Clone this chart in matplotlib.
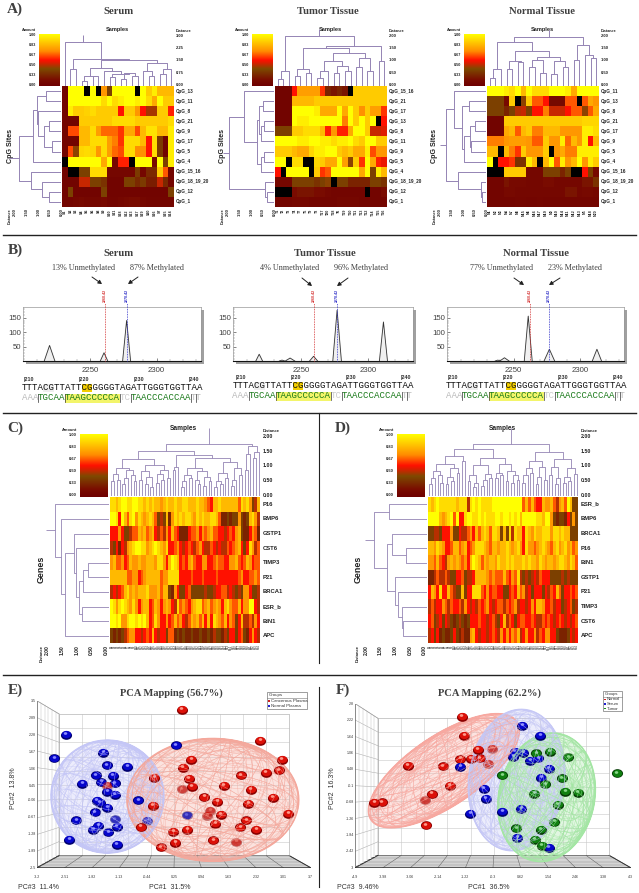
import numpy as np
import matplotlib
matplotlib.use('Agg')
import matplotlib.pyplot as plt
from matplotlib.colors import LinearSegmentedColormap
from matplotlib.collections import LineCollection
from matplotlib.patches import Rectangle, Polygon
from matplotlib.path import Path
from matplotlib.transforms import Affine2D

# ---------- data: panel A ----------
A_serum_rows = ['CpG_13','CpG_11','CpG_8','CpG_21','CpG_9','CpG_17','CpG_5','CpG_4','CpG_15_16','CpG_18_19_20','CpG_12','CpG_1']
A_tumor_rows = ['CpG_15_16','CpG_21','CpG_17','CpG_13','CpG_8','CpG_11','CpG_9','CpG_5','CpG_4','CpG_18_19_20','CpG_12','CpG_1']
A_normal_rows = ['CpG_11','CpG_13','CpG_8','CpG_21','CpG_17','CpG_9','CpG_5','CpG_4','CpG_15_16','CpG_18_19_20','CpG_12','CpG_1']
A_serum_cols = ['S1','S2','S3','S4','S5','S6','S8','S9','S10','S11','S18','S12','S13','S17','S19','S20','S16','S7','S15','S14']
A_tumor_cols = ['T1','T2','T3','T4','T7','T5','T9','T8','T17','T20','T18','T6','T19','T10','T11','T13','T12','T14','T15','T16']
A_normal_cols = ['N1','N2','N3','N4','N7','N8','N15','N6','N16','N17','N19','N9','N10','N14','N11','N12','N13','N5','N18','N20']
A_serum = [
 [.05,1,1,1,-1,1,-1,.7,.3,1,1,1,1,-1,1,.85,.95,.8,.8,.8],
 [.05,1,1,1,1,1,1,.9,1,.9,.95,1,1,.95,1,.9,.75,1,.85,.85],
 [.05,.95,.85,.85,.87,.9,.85,.85,.85,.85,.5,.85,.85,.7,.5,.38,.38,.85,.85,.52],
 [.05,.05,.05,.85,.85,.85,.85,.85,.85,.9,.9,.9,.9,.85,.85,.85,.85,.85,.85,.9],
 [.05,.58,.58,.8,.8,.9,.72,.62,.62,.62,.55,.75,.75,.58,.8,.92,.92,.8,.8,.95],
 [.05,.05,.05,.8,.8,.9,.9,.9,.72,.65,.55,.9,.9,.9,.8,.5,.9,.28,.05,.95],
 [.05,.58,.35,.88,.9,.88,.7,.9,.72,.62,.58,.9,.9,.68,.68,.5,.9,.28,.05,.95],
 [-1,1,1,1,1,1,1,.75,1,.08,.52,.52,-1,1,1,1,.1,1,.3,.95],
 [.05,-1,-1,.3,.3,.9,.9,.9,.08,.08,.08,.08,.08,.28,.08,.22,.22,.85,.6,.05],
 [.05,.05,.05,.42,.42,.3,.3,.25,.05,.05,.05,.3,.3,.22,.28,.18,.18,.42,.22,.05],
 [.05,.3,.05,.05,.05,.05,.05,.3,.05,.05,.05,.05,.05,.05,.05,.05,.05,.05,.05,.3],
 [.06,.06,.08,.1,.08,.08,.08,.1,.06,.06,.08,.1,.12,.12,.08,.06,.06,.06,.06,.06]]
A_tumor = [
 [.05,.05,.05,.5,.72,.72,.72,.72,.55,.2,.15,.2,.15,-1,.85,.85,.85,.85,.85,.85],
 [.05,.05,.05,.8,.8,.8,.8,.85,.85,.85,.85,.85,.85,.85,.85,.85,.85,.85,.85,.85],
 [.05,.05,.05,1,1,1,1,.95,.75,.75,.75,1,.75,1,.85,.68,.85,.72,.72,.55],
 [.05,.05,.05,1,.95,.95,1,1,1,1,1,1,.65,1,.85,1,.85,1,-1,.5],
 [.3,.3,.3,.85,.85,.9,.9,.9,.8,.52,.7,.52,.52,.75,1,1,.85,.42,.42,.45],
 [1,1,1,1,.95,.95,1,1,.95,.95,.9,.95,.95,1,.9,.85,1,1,.85,.85],
 [.85,.85,.85,.8,.75,.75,.88,.95,.95,1,1,.85,.8,.85,.75,.75,.95,.58,.7,.7],
 [1,1,-1,.9,.9,-1,-1,.88,.85,.75,.75,1,.72,.35,.85,.55,1,.75,.52,.47],
 [.5,-1,1,1,1,1,-1,.85,.55,.6,1,1,1,1,1,.75,1,.3,.95,.8],
 [.08,.08,.08,.3,.3,.3,.3,.25,.3,.35,-1,.3,.3,.2,.2,.2,.2,.3,.3,.25],
 [-1,-1,-1,.12,.15,.15,.15,.12,.12,.08,.06,.06,.06,.06,.06,.06,-1,.06,.06,.12],
 [.06,.06,.06,.08,.08,.08,.06,.06,.06,.06,.06,.08,.08,.08,.08,.06,.06,.06,.06,.06]]
A_normal = [
 [1,1,1,.95,.9,1,.8,1,.9,.9,.9,1,1,1,.95,.75,1,1,1,1],
 [.3,.3,.3,.1,.85,-1,.35,.85,.6,.6,.5,.1,.1,.1,.6,.6,-1,.6,.75,.7],
 [.3,.3,.3,.2,.3,.4,.42,.3,.5,.5,.65,.42,.42,.42,.5,.6,.6,.35,.6,.75],
 [.05,.05,.05,.85,.85,.85,.85,.85,.85,.85,.85,.85,.85,.85,.85,.85,.85,.88,.88,.88],
 [.05,.05,.05,.75,.8,.6,.8,.85,.65,.65,.8,.8,.8,.7,.7,.7,.7,.95,.95,.9],
 [.65,.65,.65,.7,.72,.72,.72,.7,.6,.6,.85,.7,.7,.95,.62,.8,.7,.95,.5,.8],
 [.8,.8,-1,.8,.65,.55,.85,.7,.7,.7,.85,-1,.7,.75,.65,.65,.95,.95,.95,.95],
 [1,-1,.5,.5,.55,.25,.25,.95,.8,-1,.8,1,.6,.95,.7,.8,1,.7,.95,.85],
 [-1,-1,-1,.85,.85,.85,.85,.08,.08,.08,.3,.3,.3,.2,.3,-1,-1,.5,.3,.1],
 [.06,.06,.06,.15,.1,.1,.1,.08,.08,.08,.12,.12,.08,.08,.08,.08,.08,.15,.15,.25],
 [.06,.06,.06,.1,.1,.08,.08,.08,.08,.08,.08,.08,.08,.08,.15,.15,.08,.1,.1,.08],
 [.06,.06,.06,.06,.06,.07,.07,.06,.06,.07,.06,.06,.06,.06,.06,.06,.06,.06,.06,.06]]

# dendrograms: [height, left, right]; 0 = leaf
A_serum_top = [2.68,0,[1.62,[1.0,0,0],[1.55,[1.05,[.55,[.3,0,0],[.55,0,0]],[.9,0,[.7,[.5,0,0],[.75,[.4,0,0],[.6,0,0]]]]],[1.4,[.9,0,[.6,0,0]],[1.0,[.7,0,0],0]]]]]
A_tumor_top = [2.0,[.6,[.25,0,0],0],[1.6,[1.5,[.65,[.4,0,0],[.5,0,0]],[1.3,[1.0,[.6,[.3,0,0],0],[.8,[.5,0,0],[.6,0,0]]],[1.1,[.75,0,0],[.6,0,0]]]],[1.0,0,0]]]
A_normal_top = [1.95,[1.75,[.65,[.3,0,0],0],[1.4,[1.0,[.65,0,0],[.95,0,0]],[1.15,[1.05,[.75,0,0],[.5,0,0]],[1.0,[.45,0,0],[.75,0,0]]]]],[1.65,[1.05,0,0],[1.25,0,[1.1,0,0]]]]
A_serum_left = [1.71,[1.16,[1.0,[.6,0,0],[.95,0,[.7,[.5,0,0],[.35,0,0]]]],0],[1.25,0,[.8,0,[.5,0,0]]]]
A_tumor_left = [1.86,[1.22,0,[.72,[.6,[.45,0,0],[.55,[.4,0,0],0]],[.55,[.4,0,0],0]]],[.37,0,[.3,0,0]]]
A_normal_left = [1.64,[1.3,0,[.98,[.7,0,0],[.9,[.65,[.45,0,0],[.6,0,0]],0]]],[1.14,0,[.2,0,[.18,0,0]]]]

# ---------- data: panel B ----------
B_titles = ['Serum','Tumor Tissue','Normal Tissue']
B_unmeth = ['13% Unmethylated','4% Unmethylated','77% Unmethylated']
B_meth = ['87% Methylated','96% Methylated','23% Methylated']
B_peak_pos = [[2219.5,2260.5,2277.5],[2219,2236,2242,2259.5,2277,2311.5],[2238,2243,2261,2277,2313]]
B_peak_height = [[55,30,140],[25,5,12,18,175,135],[5,13,155,42,42]]
B_peak_halfwidth = [[4,2.8,3],[2.5,2,3.5,3,3.2,3],[2,3.5,3,4,3.5]]
seq_top = 'TTTACGTTATTCGGGGGTAGATTGGGTGGTTAA'
seq_parts = [('AAA',0,'#bbbbbb'),('TGCAA',3,'#1a7a1a'),('TAAGCCCCCA',8,'#1a7a1a'),('TC',18,'#cccccc'),('TAACCCACCAA',20,'#1a7a1a'),('TT',31,'#bbbbbb')]
ruler = ['210','220','230','240']

# ---------- data: panels C, D (amount x 10) ----------
C_rows = ['P16','BMP6','GSTP1','CST6','TIMP3','P21','BRCA1','ESR_b','BIN1','APC']
C_vals = [
 [9,9,8,9,10,10,9,9,10,10,9,9,8,9,8,9,8,8,7,8,9,8,8,9,8,8,9,9,8,8,8,9,8,8,7,6,5,8,8,9,8,8,8,8,8,8,6,9,8,9,7,3,4,8],
 [10,10,9,5,10,8,6,9,10,7,9,8,7,8,9,8,6,3,4,3,8,2,7,9,8,9,8,9,9,8,7,9,8,9,8,8,9,9,8,6,2,2,3,2,3,3,7,3,2,3,8,9,7,4],
 [5,5,5,7,5,3,3,4,6,6,8,7,8,6,7,8,5,4,6,4,7,5,8,6,5,2,2,2,5,6,6,7,5,7,6,7,8,6,6,5,5,4,5,6,5,7,8,3,2,2,5,7,6,2],
 [4,3,5,2,5,4,7,8,9,10,10,9,9,7,8,9,10,9,8,7,9,5,5,6,7,5,4,5,6,5,4,6,7,5,4,4,6,5,4,5,4,4,6,5,6,7,8,5,3,5,9,7,4,6],
 [7,8,6,6,7,5,6,8,7,7,8,7,7,8,8,8,7,9,9,7,5,8,10,9,8,5,6,5,7,8,6,5,5,7,7,5,5,6,7,6,6,5,5,7,7,8,6,5,6,8,7,5,6,6],
 [8,8,8,8,8,8,6,6,7,7,5,6,7,8,8,8,8,8,6,7,7,9,9,9,9,5,5,5,5,6,5,5,5,6,5,5,5,5,6,5,5,5,5,5,5,5,6,7,5,5,6,6,7,6],
 [4,5,4,5,6,8,9,7,8,7,8,8,8,9,7,7,7,8,6,8,8,3,2,7,5,3,3,5,6,3,3,3,3,3,4,3,3,4,5,5,6,6,4,5,4,3,4,3,7,7,5,3,3,4],
 [10,9,7,9,10,9,8,7,9,7,5,7,8,8,5,6,8,7,5,7,8,7,5,4,9,6,7,6,5,7,8,9,9,6,7,8,6,7,8,7,5,8,9,7,6,6,8,5,7,7,10,10,5,4],
 [10,10,9,10,7,7,9,10,10,9,10,9,10,8,5,6,9,7,5,5,7,5,6,8,6,7,5,4,6,8,7,8,6,8,5,8,5,9,8,7,6,8,5,7,6,3,5,8,4,4,6,4,7,5],
 [3,2,3,2,3,4,6,7,7,5,5,4,5,6,5,8,5,4,5,5,3,6,6,2,3,2,3,2,2,3,2,2,3,2,2,3,2,4,3,3,2,4,3,5,5,3,5,6,3,2,5,7,5,4]]
D_rows = ['ESR_b','BMP6','BRCA1','P16','BIN1','GSTP1','P21','TIMP3','CST6','APC']
D_vals = [
 [9,8,9,10,9,9,9,9,9,9,8,9,9,9,4,9,10,9,10,9,9,9,9,10,10,10,10,10,10,10,10,10,10,10,6,8,6,8,6,5,5,8,7,7,8,6,4,7,8,6,10,8,3,3],
 [10,10,10,10,8,7,8,9,10,6,10,5,5,9,10,10,9,9,10,9,10,9,9,9,10,10,9,10,10,9,10,9,10,8,10,10,10,10,10,9,9,8,10,10,7,3,2,3,3,2,5,3,7,3],
 [3,3,4,4,3,5,5,5,7,3,3,5,4,4,6,7,5,8,6,8,9,8,6,9,9,8,3,8,3,9,4,9,8,8,5,9,8,7,9,8,8,9,9,9,7,9,9,8,9,8,8,3,3,3],
 [8,8,7,9,8,7,5,5,6,8,8,6,7,8,5,6,7,9,9,9,8,7,6,8,8,7,8,8,9,8,7,8,9,7,5,9,7,7,6,7,8,9,8,7,6,8,9,7,8,9,7,8,6,7],
 [7,7,6,8,6,5,4,7,8,7,8,7,6,7,5,8,10,9,8,6,8,7,8,8,7,9,8,8,9,8,9,8,8,8,9,8,9,8,8,7,9,8,7,8,8,7,8,9,9,8,7,9,8,6],
 [2,2,4,6,4,4,6,4,3,3,5,5,6,3,4,4,5,8,8,8,8,7,6,7,6,6,6,8,6,5,7,6,9,4,3,4,3,4,5,4,6,5,5,5,3,3,3,3,4,3,4,3,3,3],
 [5,8,7,5,9,5,5,8,6,4,3,3,8,3,5,5,9,9,9,6,5,7,5,6,6,5,5,3,3,5,6,5,8,6,7,4,5,3,5,5,5,3,5,4,6,5,8,6,3,5,5,6,5,6],
 [4,6,4,5,5,7,6,4,6,5,5,6,4,7,5,4,5,4,6,5,6,7,5,4,5,6,6,4,6,5,6,7,4,5,5,4,5,7,5,8,8,7,5,5,6,4,5,5,3,4,5,6,3,4],
 [5,6,3,4,5,3,5,4,3,2,3,4,3,2,3,5,5,5,6,5,5,4,5,6,4,3,5,8,4,6,5,3,5,6,6,5,5,6,5,4,4,6,5,6,5,4,5,6,5,4,5,4,5,6],
 [4,5,3,5,2,3,2,2,3,5,3,2,4,2,2,7,8,5,4,5,5,4,5,6,5,4,7,5,7,5,7,6,8,4,5,7,5,5,7,4,6,5,7,7,5,5,3,2,2,2,3,5,4,5]]
C_a = [1.25,[.95,[.75,[.5,0,0],[.55,0,0]],[.9,[.6,[.4,0,0],0],[.7,0,[.5,0,0]]]],[1.05,[.85,[.55,0,0],[.65,[.4,0,0],[.3,0,0]]],[.9,[.75,[.45,0,0],[.55,0,0]],[.6,0,0]]]]
C_b = [1.4,[1.0,[.9,0,0],0],[1.3,[.95,[.7,[.5,[.3,0,0],0],[.6,0,0]],[.85,[.55,0,[.4,0,0]],[.65,[.35,0,0],[.5,0,0]]]],[1.15,[.8,[.5,[.3,0,0],[.4,0,0]],[.6,0,0]],[.95,[.55,[.35,0,0],0],[.7,0,0]]]]]
C_c = [1.7,[1.45,[.9,0,0],0],[1.5,[1.3,0,0],0]]
C_top = [1.78,[1.55,C_a,C_b],C_c]
C_left = [1.84,0,[1.64,0,[1.49,[1.19,0,[1.13,0,[1.02,[.88,[.7,0,0],0],[.93,0,0]]]],0]]]
D_l = [1.6,[1.35,[1.1,[.85,[.6,[.4,0,0],0],[.7,0,[.45,0,0]]],[.95,[.65,[.4,0,0],[.5,0,0]],[.8,0,0]]],[1.2,0,0]],[1.3,[1.05,[.7,[.5,0,0],[.45,[.3,0,0],0]],[.75,[.55,[.35,0,0],0],[.6,0,0]]],[1.1,[.8,[.6,0,0],[.7,0,0]],[.85,[.5,0,0],[.7,[.45,0,0],[.55,0,0]]]]]]
D_r = [1.5,[1.2,[.95,[.7,[.45,0,0],0],[.8,0,0]],[1.0,[.65,[.4,0,0],0],[.55,0,0]]],[1.25,[1.0,[.7,0,0],[.6,[.4,0,0],0]],[.95,[.65,[.45,0,0],[.5,0,0]],[.75,0,0]]]]
D_top = [1.78,D_l,D_r]
D_left = [1.8,[1.3,0,0],[1.35,[1.17,0,[.7,0,0]],[1.1,0,[.98,0,[.85,0,[.8,0,0]]]]]]

# ---------- data: panels E, F ----------
E_xticks = [-3.2,-2.51,-1.82,-1.13,-.44,.25,.94,1.63,2.32,3.01,3.7]
E_yticks = [3.5,2.89,2.28,1.67,1.06,.45,-.06,-.67,-1.28,-1.89,-2.5]
E_blue_in_x = [-1.53,-1.45,-.93,-1.72,-1.30,-2.07,-1.58,-1.24,-1.43,-1.24,-1.70,-1.62,-1.43,-1.75,-2.22,-1.66,-1.79,-1.20,-1.41]
E_blue_in_y = [1.63,1.18,1.14,.82,.80,.51,.58,.54,.24,.12,-.10,-.16,-.34,-.51,-.80,-1.00,-1.14,-1.02,-1.23]
E_blue_out_x = [-2.48,-2.77,.29,-.65,-1.20,-2.39]
E_blue_out_y = [2.28,1.44,1.90,-.08,-1.67,-1.50]
E_blue_faint_x = [-1.24,-.44,.57]
E_blue_faint_y = [-.76,-.81,-.62]
E_red_in_x = [.47,2.97,2.89,2.56,1.94,.62,-.25,.70,1.50,2.19,1.01,1.34,2.74,2.13,-.29,3.13,1.43,2.07,1.29,1.92,.23,.58,.28,1.24,-.09]
E_red_in_y = [1.09,1.38,1.00,.92,.82,.69,.74,.42,.44,.31,.04,-.12,.01,-.20,-.27,-.56,-.60,-.80,-.93,-1.05,-1.20,-1.14,-1.61,-1.52,-1.77]
E_red_out_x = [.44,2.43,.69,-.59,2.32]
E_red_out_y = [3.18,2.07,1.39,-1.04,-1.14]
E_red_faint_x = [.44,1.16,1.09,1.82,-1.43]
E_red_faint_y = [.32,-.46,-.64,-1.58,.44]
F_xticks = [-4.9,-3.98,-3.06,-2.14,-1.22,-.3,.62,1.54,2.46,3.38,4.3]
F_yticks = [2.8,2.22,1.64,1.06,.48,-.1,-.68,-1.26,-1.84,-2.42,-3.0]
F_red_x = [-1.26,-1.40,-1.04,-.75,-3.14,-1.98,-1.74,-4.02]
F_red_y = [1.67,.84,.85,.87,.60,.58,-.10,-.69]
F_red_out_x = [-1.35,-.81,-2.34,-4.27,-2.55]
F_red_out_y = [2.33,1.17,-.40,-.71,-1.50]
F_red_faint_x = [-.32,-.46,-2.57]
F_red_faint_y = [1.21,.68,-.61]
F_blue_x = [.67,.43,.71,.38,.94,1.21,-1.39,1.56,1.32,-.61,-.55,-1.06,.65,.51,1.56]
F_blue_y = [2.01,1.10,1.07,.93,.78,.87,.56,.50,.17,-.22,-.57,-1.10,-.91,-1.94,-2.30]
F_blue_out_x = [1.28,.01]
F_blue_out_y = [1.67,-1.03]
F_green_x = [1.14,1.60,2.22,2.00,1.44,2.53,1.08,1.87,1.74,.47,1.29,1.10,1.33]
F_green_y = [1.04,1.09,.90,.16,-.05,-.35,-.38,-.77,-1.39,-1.61,-1.66,-2.01,-2.22]
F_green_out_x = [.01,3.83,2.11]
F_green_out_y = [.27,.34,-.31]

# ---------- helpers ----------
W, H = 639, 893
fig = plt.figure(figsize=(W/100, H/100), dpi=100, facecolor='white')
SANS = 'Liberation Sans'
SERIF = 'Liberation Serif'
GREY = '#404040'

def ax_px(x0, y0, x1, y1, **kw):
    return fig.add_axes([x0/W, 1-y1/H, (x1-x0)/W, (y1-y0)/H], **kw)

bg = fig.add_axes([0, 0, 1, 1], zorder=0)
bg.set_xlim(0, W); bg.set_ylim(H, 0); bg.axis('off')

def txt(x, y, s, size=4, weight='normal', family=SANS, color='black', ha='center', va='center', rot=0, z=5):
    bg.text(x, y, s, fontsize=size, fontweight=weight, family=family, color=color, ha=ha, va=va, rotation=rot, zorder=z)

cmap = LinearSegmentedColormap.from_list('hm', [(0,'#6e0000'),(.12,'#7a0c00'),(.33,'#7d4a00'),(.44,'#d82000'),(.5,'#ff1000'),(.67,'#ff8c00'),(.83,'#ffc400'),(1,'#ffff00')])
cmap.set_under('black')
DEND = '#9484b4'

def tree_segs(tree, cnt, segs):
    if tree == 0:
        p = cnt[0] + .5
        cnt[0] += 1
        return p, 0.0
    h, l, r = tree
    lp, lh = tree_segs(l, cnt, segs)
    rp, rh = tree_segs(r, cnt, segs)
    segs.append([(lp, lh), (lp, h), (rp, h), (rp, rh)])
    return (lp+rp)/2, h

def dend_top(tree, x0, x1, ybase, scale, stem, lw=.75):
    segs, cnt = [], [0]
    mid, h = tree_segs(tree, cnt, segs)
    segs.append([(mid, h), (mid, h+stem)])
    a = ax_px(x0, ybase-(h+stem)*scale, x1, ybase)
    a.set_xlim(0, cnt[0]); a.set_ylim(0, h+stem); a.axis('off')
    a.add_collection(LineCollection(segs, colors=DEND, linewidths=lw))

def dend_left(tree, xbase, y0, y1, scale, stem, lw=.75):
    segs, cnt = [], [0]
    mid, h = tree_segs(tree, cnt, segs)
    segs.append([(mid, h), (mid, h+stem)])
    segs = [[(b, a_) for a_, b in s] for s in segs]
    a = ax_px(xbase-(h+stem)*scale, y0, xbase, y1)
    a.set_xlim(h+stem, 0); a.set_ylim(cnt[0], 0); a.axis('off')
    a.add_collection(LineCollection(segs, colors=DEND, linewidths=lw))

def heat(vals, x0, y0, x1, y1):
    a = ax_px(x0, y0, x1, y1)
    a.imshow(np.array(vals, float), cmap=cmap, vmin=0, vmax=1, aspect='auto', interpolation='nearest')
    a.axis('off')

def cbar(x0, y0, x1, y1, labx, size):
    a = ax_px(x0, y0, x1, y1)
    a.imshow(np.linspace(1, 0, 256)[:, None], cmap=cmap, vmin=0, vmax=1, aspect='auto')
    a.axis('off')
    for f, s in zip(np.arange(6)/5, ['1.00','0.83','0.67','0.50','0.33','0.00']):
        txt(labx, y0+1.5+f*(y1-y0-3), s, size=size, ha='right', weight='bold', color='#222222')
    txt(labx, y0-4, 'Amount', size=size, ha='right', color='#222222', weight='bold')

# ---------- panel A ----------
txt(15, 9, 'A)', 11, 'bold', SERIF, GREY)
txt(118, 11, 'Serum', 7.7, 'bold', SERIF, GREY)
txt(328, 11, 'Tumor Tissue', 7.7, 'bold', SERIF, GREY)
txt(542, 11, 'Normal Tissue', 7.7, 'bold', SERIF, GREY)
A_layout = [
 (A_serum, A_serum_rows, A_serum_cols, A_serum_top, A_serum_left, 62, 39, 16.4, ['3.00','2.25','1.50','0.75','0.00'], 2.15-1.71),
 (A_tumor, A_tumor_rows, A_tumor_cols, A_tumor_top, A_tumor_left, 275, 252, 24.67, ['2.00','1.50','1.00','0.50','0.00'], .25),
 (A_normal, A_normal_rows, A_normal_cols, A_normal_top, A_normal_left, 487, 464, 24.67, ['2.00','1.50','1.00','0.50','0.00'], .25),
]
for vals, rows, cols, top, left, hx, cx, sc, dist, st in A_layout:
    hx1 = hx+112
    heat(vals, hx, 86, hx1, 207)
    cbar(cx, 34, cx+21, 86, cx-3, 2.7)
    dend_top(top, hx, hx1, 85.5, sc, 7/sc, lw=.7)
    dend_left(left, hx-1, 86, 207, 24.3, st, lw=.7)
    for i, r in enumerate(rows):
        txt(hx1+2, 86+(i+.5)*121/12, r, 3.3, ha='left', weight='bold', color='#222222')
    for i, c in enumerate(cols):
        txt(hx+(i+.5)*5.6, 209, c, 2.6, rot=90, va='top', weight='bold', color='#222222')
    for i, s in enumerate(dist):
        txt(hx1+2, 35.7+i*12.33, s, 3.0, ha='left', weight='bold', color='#222222')
    txt(hx1+2, 31, 'Distance', 2.7, ha='left', color='#222222', weight='bold')
    txt(hx+55, 29, 'Samples', 4.1, weight='bold', color='#222222')
    txt(hx-52, 146, 'CpG Sites', 5.1, weight='bold', rot=90, color='#222222')
    for i, s in enumerate(['2.00','1.50','1.00','0.50','0.00']):
        txt(hx-47+i*11.75, 208, s, 3.0, rot=90, va='top', weight='bold', color='#222222')
    txt(hx-52, 208, 'Distance', 2.7, rot=90, va='top', color='#222222', weight='bold')

# ---------- panel B ----------
bg.plot([3, 636], [234.5, 234.5], color='#222222', lw=1.0)
bg.plot([3, 636], [412.5, 412.5], color='#222222', lw=1.0)
bg.plot([3, 636], [675, 675], color='#222222', lw=1.0)
bg.plot([319, 319], [412.5, 663], color='#222222', lw=.8)
bg.plot([319, 319], [687, 887], color='#222222', lw=.8)
txt(15, 250, 'B)', 11, 'bold', SERIF, GREY)
B_layout = [
 dict(ax=(23,307,201,361), title=118, un=83, me=157, a1=((92,277),(102,284)), a2=((138,277),(128,284)), sx=21.5, sy=388, rx=23.5, ry=379, lab=('2260.42','2278.42'), xl=(2261,2278)),
 dict(ax=(233,307,413,361), title=325, un=290, me=361, a1=((302,278),(312,286)), a2=((348,278),(337,286)), sx=232.5, sy=386, rx=235.5, ry=377, lab=('2260.42','2278.42'), xl=(2260,2277)),
 dict(ax=(447,307,624,361), title=536, un=501, me=575, a1=((514,278),(524,285)), a2=((560,278),(549,285)), sx=445.5, sy=386, rx=447.5, ry=377, lab=('2260.42','2278.42'), xl=(2262,2277)),
]
CH = 5.46
for k, L in enumerate(B_layout):
    x0, y0, x1, y1 = L['ax']
    txt(L['title'], 253, B_titles[k], 7.7, 'bold', SERIF, GREY)
    txt(L['un'], 268, B_unmeth[k], 5.9, family=SERIF, color=GREY)
    txt(L['me'], 268, B_meth[k], 5.9, family=SERIF, color=GREY)
    for a in ('a1', 'a2'):
        (xa, ya), (xb, yb) = L[a]
        bg.annotate('', xy=(xb, yb), xytext=(xa, ya), arrowprops=dict(arrowstyle='-|>,head_width=.12,head_length=.22', color='#222222', lw=.7, shrinkA=0, shrinkB=0))
    bg.add_patch(Rectangle((x0+2.5, y0+2.5), x1-x0, y1-y0, fc='#a0a0a0', ec='none', zorder=1))
    a = ax_px(x0, y0, x1, y1, zorder=2)
    a.set_xlim(2199.5, 2333.5); a.set_ylim(2, 186)
    for p, h, w in zip(B_peak_pos[k], B_peak_height[k], B_peak_halfwidth[k]):
        a.fill([p-w, p, p+w], [2, h, 2], color='#f0f0f0', zorder=2)
        a.plot([p-w, p, p+w], [2, h, 2], color='#333333', lw=.6, zorder=3)
    for xv, col, s in zip(L['xl'], ('#d43030', '#3030c8'), L['lab']):
        a.plot([xv, xv], [2, 186*1.08], color=col, lw=.6, ls=(0, (1, 1)), clip_on=False, zorder=4)
        a.text(xv, 186*1.1, s, rotation=90, fontsize=2.6, color=col, ha='center', va='bottom', family=SANS, fontweight='bold', clip_on=False)
    a.set_xticks([2250, 2300]); a.set_xticklabels(['2250', '2300'], fontsize=5.6, color=GREY, family=SANS)
    a.set_xticks(np.arange(2210, 2331, 10), minor=True)
    a.set_yticks([50, 100, 150]); a.set_yticklabels(['50', '100', '150'], fontsize=5.6, color=GREY, family=SANS)
    a.set_yticks(np.arange(10, 181, 10), minor=True)
    a.tick_params(axis='both', which='major', length=2.5, width=.5, pad=1, color='#555555', direction='in')
    a.tick_params(axis='both', which='minor', length=1.3, width=.3, color='#777777', direction='in')
    a.tick_params(axis='x', pad=4)
    for sp in ('top', 'right', 'left'):
        a.spines[sp].set_color('#999999'); a.spines[sp].set_linewidth(.5)
    a.spines['bottom'].set_color('#111111'); a.spines['bottom'].set_linewidth(.8)
    sx, sy = L['sx'], L['sy']
    bg.add_patch(Rectangle((sx+11*CH, sy-4.2), 2*CH, 8.4, fc='#f2cd00', ec='none', zorder=2))
    bg.add_patch(Rectangle((sx+4*CH, sy-4), 2*CH, 8, fc='#eeeeee', ec='none', zorder=2))
    bg.add_patch(Rectangle((sx+8*CH, sy+10-4.5), 10*CH, 9, fc='#f3f56a', ec='none', zorder=2))
    bg.text(sx, sy, seq_top, family='Liberation Mono', fontsize=6.55, color='#111111', ha='left', va='center', zorder=5)
    for s, i, c in seq_parts:
        bg.text(sx+i*CH, sy+10, s, family='Liberation Mono', fontsize=6.55, color=c, ha='left', va='center', zorder=5)
    for i in (3, 8, 18, 20, 31, 32):
        bg.plot([sx+i*CH, sx+i*CH], [sy+6, sy+14], color='#333333', lw=.5, zorder=5)
    for i, s in enumerate(ruler):
        txt(L['rx']+i*55.2, L['ry'], '|'+s, 3.9, ha='left', weight='bold', color='#333333')

# ---------- panels C, D ----------
CD = [
 ('C)', 15, C_vals, C_rows, C_top, C_left, 110, 80, 183, 47.7, 41.5, 41),
 ('D)', 343, D_vals, D_rows, D_top, D_left, 428, 397, 502, 366, 358, 358),
]
for lab, lx, vals, rows, top, left, hx, cx, sx, dx, dlx, gx in CD:
    hx1 = hx+150
    txt(lx, 428, lab, 11, 'bold', SERIF, GREY)
    heat(np.array(vals)/10, hx, 497, hx1, 643)
    cbar(cx, 434, cx+28, 497, cx-3, 2.9)
    dend_top(top, hx, hx1, 496, 29.3, .55, lw=.6)
    dend_left(left, hx-1, 497, 643, 29.5, .3, lw=.6)
    for i, r in enumerate(rows):
        txt(hx1+3, 497+(i+.5)*14.6, r, 4.2, ha='left', weight='bold', color='#222222')
    for i, s in enumerate(['2.00','1.50','1.00','0.50','0.00']):
        txt(hx1+3, 436.5+i*14.67, s, 3.8, ha='left', weight='bold', color='#222222')
    txt(hx1+3, 431, 'Distance', 3.0, ha='left', weight='bold', color='#222222')
    txt(sx, 428, 'Samples', 4.7, weight='bold', color='#222222')
    txt(gx, 569, 'Genes', 6.4, weight='bold', rot=90, color='#222222')
    for i in range(np.array(vals).shape[1]):
        txt(hx+(i+.5)*150/54, 644.5, 'P%d' % (i+1), 1.9, rot=90, va='top', color='#111111')
    for i, s in enumerate(['2.00','1.50','1.00','0.50','0.00']):
        txt(dx+i*14.67, 645, s, 3.6, rot=90, va='top', weight='bold', color='#222222')
    txt(dlx, 645, 'Distance', 3.0, rot=90, va='top', weight='bold', color='#222222')

# ---------- panels E, F ----------
ball_path = Path.unit_circle().transformed(Affine2D().scale(1, .78))

def balls(ax, x, y, dark, mid, light, s=64, alpha=1, z=3):
    x, y = np.array(x, float), np.array(y, float)
    ppx = (ax.get_xlim()[1]-ax.get_xlim()[0])/ax.get_window_extent().width
    ppy = (ax.get_ylim()[1]-ax.get_ylim()[0])/ax.get_window_extent().height
    ax.scatter(x, y, s=s, marker=ball_path, c=dark, linewidths=0, alpha=alpha, zorder=z, clip_on=False)
    ax.scatter(x, y+.6*ppy, s=s*.7, marker=ball_path, c=mid, linewidths=0, alpha=alpha, zorder=z+.1, clip_on=False)
    ax.scatter(x-.5*ppx, y+1.7*ppy, s=s*.1, marker=ball_path, c=light, linewidths=0, alpha=alpha, zorder=z+.2, clip_on=False)

def wire(ax, cx, cy, a_px, b_px, ang, col, z=2):
    kx = (ax.get_xlim()[1]-ax.get_xlim()[0])/ax.get_window_extent().width
    ky = (ax.get_ylim()[1]-ax.get_ylim()[0])/ax.get_window_extent().height
    th = np.radians(ang)
    R2 = np.array([[np.cos(th), -np.sin(th)], [np.sin(th), np.cos(th)]])
    t = np.linspace(0, 2*np.pi, 90)
    E = R2 @ np.vstack([a_px*np.cos(t), b_px*np.sin(t)])
    ax.add_patch(Polygon(np.c_[cx+E[0]*kx, cy+E[1]*ky], fc=col, ec='none', alpha=.32, zorder=z))
    lines = []
    for tilt_a, tilt_b in ((.5, .3), (1.3, -.7), (-1.0, 1.0)):
        Ra = np.array([[1,0,0],[0,np.cos(tilt_a),-np.sin(tilt_a)],[0,np.sin(tilt_a),np.cos(tilt_a)]])
        Rb = np.array([[np.cos(tilt_b),0,np.sin(tilt_b)],[0,1,0],[-np.sin(tilt_b),0,np.cos(tilt_b)]])
        R3 = Rb @ Ra
        fam = []
        for phi in np.linspace(0, np.pi, 13)[:-1]:
            fam.append(np.vstack([np.cos(t)*np.cos(phi), np.cos(t)*np.sin(phi), np.sin(t)]))
        for lat in np.linspace(-1.3, 1.3, 10):
            fam.append(np.vstack([np.cos(lat)*np.cos(t), np.cos(lat)*np.sin(t), np.full_like(t, np.sin(lat))]))
        lines += [R3 @ P for P in fam]
    segs = []
    for P in lines:
        q = R2 @ np.vstack([a_px*P[0], b_px*P[1]])
        segs.append(np.c_[cx+q[0]*kx, cy+q[1]*ky])
    ax.add_collection(LineCollection(segs, colors=col, linewidths=.3, alpha=.85, zorder=z+1))
    # a sparse part of the mesh stays in front of the markers inside the shell
    ax.add_collection(LineCollection(segs[::5], colors=col, linewidths=.3, alpha=.9, zorder=5.5))
    ax.add_patch(Polygon(np.c_[cx+E[0]*kx, cy+E[1]*ky], fc='none', ec=col, lw=1.0, zorder=z+1.5))

def frame(ax, xt, yt, zb):
    T = ax.transAxes
    l, r, b, t = zb
    ax.add_patch(Polygon([(l, b), (r, b), (1, 0), (0, 0)], transform=T, fc='#d4d4d4', ec='none', zorder=.5))
    for f in np.linspace(0, 1, 11):
        ax.plot([l+(r-l)*f]*2, [b, t], color='#c8c8c8', lw=.4, transform=T, zorder=.6)
        ax.plot([l, r], [b+(t-b)*f]*2, color='#c8c8c8', lw=.4, transform=T, zorder=.6)
        ax.plot([l+(r-l)*f, f], [b, 0], color='#555555', lw=.35, transform=T, zorder=.7)
        ax.plot([0, l], [f, b+(t-b)*f], color='#b0b0b0', lw=.4, transform=T, zorder=.6)
    for f in np.linspace(0, l, 7):
        ax.plot([f, f], [f/l*b, 1-f/l*(1-t)], color='#c4c4c4', lw=.35, transform=T, zorder=.6)
    for f in (.25, .5, .75):
        ax.plot([l*(1-f), 1-(1-r)*(1-f)], [b*(1-f)]*2, color='#888888', lw=.3, transform=T, zorder=.7)
    ax.plot([0, 0, l, r], [1, 0, b, b], color='#555555', lw=.5, transform=T, zorder=.8)
    ax.plot([0, 1, r], [0, 0, b], color='#333333', lw=.7, transform=T, zorder=.8)
    ax.plot([0, l, l], [1, t, b], color='#999999', lw=.4, transform=T, zorder=.8)
    ax.plot([l, r, r], [t, t, b], color='#bbbbbb', lw=.4, transform=T, zorder=.8)
    for f in np.linspace(0, 1, 7):
        ax.plot([l*f, l*f-.01], [b*f, b*f-.004], color='#222222', lw=.5, transform=T, zorder=.9)
    ax.set_xticks([]); ax.set_yticks([])
    for v in xt:
        ax.text(v, ax.get_ylim()[0]-.055*(ax.get_ylim()[1]-ax.get_ylim()[0]), '%g' % v, fontsize=2.6, ha='center', va='center', color='#333333', family=SANS, clip_on=False)
    for v in yt:
        ax.text(ax.get_xlim()[0]-.006*(ax.get_xlim()[1]-ax.get_xlim()[0]), v, '%g' % v, fontsize=2.6, ha='right', va='center', color='#333333', family=SANS, clip_on=False)

def legend(x0, y0, x1, y1, hy, names, cols, size):
    bg.add_patch(Rectangle((x0, y0), x1-x0, y1-y0, fc='white', ec='#777777', lw=.5, zorder=6))
    bg.plot([x0, x1], [y0+hy, y0+hy], color='#777777', lw=.4, zorder=7)
    txt(x0+1.5, y0+hy/2, 'Groups', size, ha='left', color='#333333', z=8)
    ystep = (y1-y0-hy)/(len(names))
    for i, (n, c) in enumerate(zip(names, cols)):
        yy = y0+hy+(i+.5)*ystep
        bg.add_patch(Rectangle((x0+1.2, yy-.8), 1.6, 1.6, fc=c, ec='none', zorder=8))
        txt(x0+4, yy, n, size, ha='left', color='#333333', z=8)

# E
txt(15, 690, 'E)', 11, 'bold', SERIF, GREY)
txt(171, 693, 'PCA Mapping (56.7%)', 7.6, 'bold', SERIF, GREY)
axE = ax_px(37.3, 701, 310.7, 867.7, zorder=2)
axE.set_xlim(-3.2, 3.7); axE.set_ylim(-2.5, 3.5); axE.patch.set_alpha(0)
for s in axE.spines.values():
    s.set_visible(False)
frame(axE, E_xticks, E_yticks, (.08, .922, .072, .922))
RD, RM, RL = '#8a0000', '#dc1008', '#ff9a8a'
BD, BM, BL = '#00006e', '#0606cc', '#8a8aff'
GD, GM, GL = '#063a06', '#108010', '#8ad88a'
wire(axE, -1.43, .06, 56.5, 56.5, 0, '#c4c6f6', z=2)
wire(axE, 1.23, -.06, 86, 61.5, 0, '#f4a89c', z=2)
balls(axE, E_blue_in_x, E_blue_in_y, BD, BM, BL, z=5)
balls(axE, E_red_in_x, E_red_in_y, RD, RM, RL, z=5)
balls(axE, E_blue_faint_x, E_blue_faint_y, BD, BM, BL, alpha=.55, z=5)
balls(axE, E_red_faint_x, E_red_faint_y, RD, RM, RL, alpha=.5, z=5)
balls(axE, E_blue_out_x, E_blue_out_y, BD, BM, BL, z=6)
balls(axE, E_red_out_x, E_red_out_y, RD, RM, RL, z=6)
legend(267, 692, 307, 709, 6, ['Cancerous Plasma', 'Normal Plasma'], ['#d02020', '#2020d0'], 3.2)
txt(13.5, 788, 'PC#2  13.8%', 5.0, rot=90, color='#333333')
txt(38, 887.5, 'PC#3  11.4%', 5.0, color='#333333')
txt(170, 887.5, 'PC#1  31.5%', 5.0, color='#333333')

# F
txt(343, 690, 'F)', 11, 'bold', SERIF, GREY)
txt(489, 693, 'PCA Mapping (62.2%)', 7.6, 'bold', SERIF, GREY)
axF = ax_px(355.3, 703.7, 630.7, 867.7, zorder=2)
axF.set_xlim(-4.9, 4.3); axF.set_ylim(-3.0, 2.8); axF.patch.set_alpha(0)
for s in axF.spines.values():
    s.set_visible(False)
frame(axF, F_xticks, F_yticks, (.083, .922, .075, .91))
wire(axF, -1.94, .43, 88, 35, 34, '#f7a8a0', z=2)
wire(axF, .49, 0.1, 71, 48, 83, '#c6c8f6', z=2.6)
wire(axF, 1.49, -.51, 65, 48, 78, '#a4e6a4', z=3.2)
balls(axF, F_blue_x, F_blue_y, BD, BM, BL, z=5)
balls(axF, F_red_x, F_red_y, RD, RM, RL, z=5)
balls(axF, F_red_faint_x, F_red_faint_y, RD, RM, RL, alpha=.5, z=5)
balls(axF, F_green_x, F_green_y, GD, GM, GL, z=5)
balls(axF, F_red_out_x, F_red_out_y, RD, RM, RL, z=6)
balls(axF, F_blue_out_x, F_blue_out_y, BD, BM, BL, z=6)
balls(axF, F_green_out_x, F_green_out_y, GD, GM, GL, z=6)
legend(603, 691, 622, 711, 6, ['Normal', 'Serum', 'Tumor'], ['#d02020', '#2020d0', '#209020'], 3.0)
txt(333, 788, 'PC#2  16.3%', 5.0, rot=90, color='#333333')
txt(358, 887.5, 'PC#3  9.46%', 5.0, color='#333333')
txt(489, 887.5, 'PC#1  36.5%', 5.0, color='#333333')

fig.savefig('out.png', dpi=100, facecolor='white')
